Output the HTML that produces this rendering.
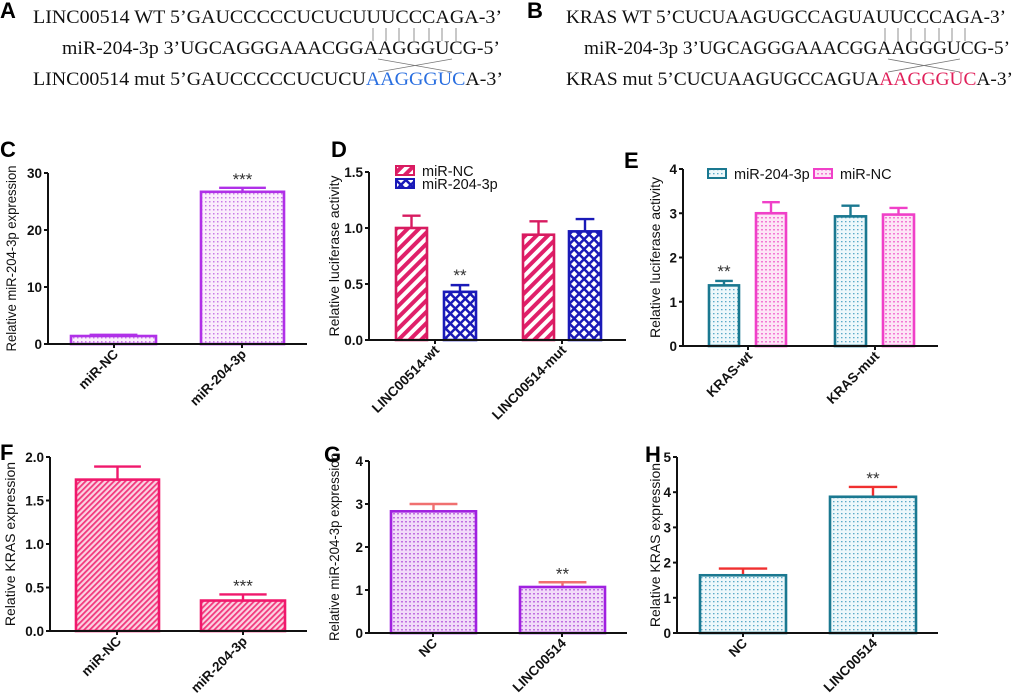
<!DOCTYPE html>
<html><head><meta charset="utf-8"><style>
body{margin:0;background:#fff}
svg{display:block}
.seq{font-family:"Liberation Serif",serif;font-size:18.5px;fill:#111}
.lab{font-family:"Liberation Sans",sans-serif;font-weight:bold;font-size:22px;fill:#000}
.tk{font-family:"Liberation Sans",sans-serif;font-weight:bold;font-size:13.5px;fill:#111}
.yt{font-family:"Liberation Sans",sans-serif;font-size:14px;fill:#111}
.lg{font-family:"Liberation Sans",sans-serif;font-size:14.5px;fill:#111}
.st{font-family:"Liberation Sans",sans-serif;font-size:17px;fill:#333}
</style></head><body>
<svg id="fig" width="1020" height="696" viewBox="0 0 1020 696">
<defs>
<pattern id="pDots" width="4" height="4" patternUnits="userSpaceOnUse"><rect width="4" height="4" fill="#fbeefc"/><rect x="1" y="1" width="1.5" height="1.5" fill="#c87ce6"/></pattern>
<pattern id="pStripe" width="8" height="8" patternUnits="userSpaceOnUse" patternTransform="rotate(45)"><rect width="8" height="8" fill="#fff"/><rect width="4" height="8" fill="#e0206a"/></pattern>
<pattern id="pCross" width="7" height="7" patternUnits="userSpaceOnUse" patternTransform="rotate(45)"><rect width="7" height="7" fill="#fff"/><rect width="7" height="2.5" fill="#1a1ab8"/><rect width="2.5" height="7" fill="#1a1ab8"/></pattern>
<pattern id="pTeal" width="4" height="4" patternUnits="userSpaceOnUse"><rect width="4" height="4" fill="#eef8fb"/><rect x="1" y="1" width="1.5" height="1.3" fill="#5aaac8"/></pattern>
<pattern id="pPink" width="4" height="4" patternUnits="userSpaceOnUse"><rect width="4" height="4" fill="#fde6f6"/><rect x="1" y="1" width="2" height="1.5" fill="#f27ad4"/></pattern>
<pattern id="pHatchF" width="4" height="4" patternUnits="userSpaceOnUse" patternTransform="rotate(45)"><rect width="4" height="4" fill="#fbd2e2"/><rect width="1.8" height="4" fill="#f2387c"/></pattern>
<pattern id="pPurp" width="4" height="4" patternUnits="userSpaceOnUse"><rect width="4" height="4" fill="#f2dcf9"/><rect x="1" y="1" width="2" height="1.5" fill="#c070e0"/></pattern>
</defs>

<g>
<text class="lab" x="0" y="18">A</text>
<text class="seq" x="33" y="23" textLength="469" lengthAdjust="spacingAndGlyphs">LINC00514 WT 5’GAUCCCCCUCUCUUUCCCAGA-3’</text>
<text class="seq" x="62" y="54" textLength="438" lengthAdjust="spacingAndGlyphs">miR-204-3p 3’UGCAGGGAAACGGAAGGGUCG-5’</text>
<text class="seq" x="33" y="85" textLength="470" lengthAdjust="spacingAndGlyphs">LINC00514 mut 5’GAUCCCCCUCUCU<tspan fill="#2a6fe0">AAGGGUC</tspan>A-3’</text>
<g stroke="#777" stroke-width="0.8">
<line x1="373" y1="28" x2="373" y2="41"/><line x1="386" y1="28" x2="386" y2="41"/><line x1="399" y1="28" x2="399" y2="41"/><line x1="414" y1="28" x2="414" y2="41"/><line x1="429" y1="28" x2="429" y2="41"/><line x1="442" y1="28" x2="442" y2="41"/><line x1="456" y1="28" x2="456" y2="41"/>
<line x1="378" y1="59" x2="452" y2="72"/><line x1="452" y1="59" x2="378" y2="72"/>
</g>
</g>

<g>
<text class="lab" x="527" y="18">B</text>
<text class="seq" x="566" y="23" textLength="440" lengthAdjust="spacingAndGlyphs">KRAS WT 5’CUCUAAGUGCCAGUAUUCCCAGA-3’</text>
<text class="seq" x="584" y="54" textLength="426" lengthAdjust="spacingAndGlyphs">miR-204-3p 3’UGCAGGGAAACGGAAGGGUCG-5’</text>
<text class="seq" x="566" y="85" textLength="447" lengthAdjust="spacingAndGlyphs">KRAS mut 5’CUCUAAGUGCCAGUA<tspan fill="#e0205a">AAGGGUC</tspan>A-3’</text>
<g stroke="#777" stroke-width="0.8">
<line x1="885" y1="28" x2="885" y2="41"/><line x1="898" y1="28" x2="898" y2="41"/><line x1="911" y1="28" x2="911" y2="41"/><line x1="925" y1="28" x2="925" y2="41"/><line x1="939" y1="28" x2="939" y2="41"/><line x1="952" y1="28" x2="952" y2="41"/><line x1="965" y1="28" x2="965" y2="41"/>
<line x1="888" y1="59" x2="960" y2="72"/><line x1="960" y1="59" x2="888" y2="72"/>
</g>
</g>

<g id="charts"></g>
</svg>
<script>
const cCats = ["miR-NC","miR-204-3p"];
const cVals = [1.4, 26.7];
const cErr = [1.6, 27.4];
const cTicks = [0,10,20,30];

const dCats = ["LINC00514-wt","LINC00514-mut"];
const dNC = [1.0, 0.94];
const dNCerr = [1.11, 1.06];
const dMir = [0.43, 0.97];
const dMirErr = [0.49, 1.08];
const dTicks = [0.0,0.5,1.0,1.5];

const eCats = ["KRAS-wt","KRAS-mut"];
const eMir = [1.37, 2.93];
const eMirErr = [1.47, 3.17];
const eNC = [3.0, 2.97];
const eNCerr = [3.25, 3.12];
const eTicks = [0,1,2,3,4];

const fCats = ["miR-NC","miR-204-3p"];
const fVals = [1.74, 0.35];
const fErr = [1.89, 0.42];
const fTicks = [0.0,0.5,1.0,1.5,2.0];

const gCats = ["NC","LINC00514"];
const gVals = [2.83, 1.07];
const gErr = [3.0, 1.18];
const gTicks = [0,1,2,3,4];

const hCats = ["NC","LINC00514"];
const hVals = [1.64, 3.87];
const hErr = [1.83, 4.15];
const hTicks = [0,1,2,3,4,5];

const NS = "http://www.w3.org/2000/svg";
const root = document.getElementById("charts");
function mk(tag, attrs, parent){const e=document.createElementNS(NS,tag);for(const k in attrs)e.setAttribute(k,attrs[k]);(parent||root).appendChild(e);return e;}

function panel(id, cfg){
  const g = mk("g",{});
  
  
  const ys = v => cfg.y0 - (v / cfg.max) * (cfg.y0 - cfg.yTop);
  const lab = mk("text",{class:"lab",x:cfg.lx,y:cfg.ly},g); lab.textContent = cfg.label;
  
  
  cfg.series.forEach(s=>{
    s.vals.forEach((v,i)=>{
      const l=s.x[i][0], r=s.x[i][1], cx=(l+r)/2, yt=ys(v), ye=ys(s.err[i]);
      const w=(r-l)*0.55;
      const eb = mk("path",{d:`M${cx},${yt} V${ye} M${cx-w/2},${ye} H${cx+w/2}`,stroke:s.errC,"stroke-width":2.4,fill:"none"},g);
      
      
      const b = mk("rect",{x:l+1,y:yt,width:r-l-2,height:cfg.y0-yt,fill:s.fill,stroke:s.stroke,"stroke-width":2.6},g);
      
      
    });
  });
  (cfg.stars||[]).forEach(st=>{
    const s=cfg.series[st.s], i=st.i;
    const cx=(s.x[i][0]+s.x[i][1])/2;
    const t=mk("text",{class:"st","text-anchor":"middle",x:cx,y:ys(s.err[i])+st.dy},g); t.textContent=st.t;
    
    
  });
  const ax = mk("path",{d:`M${cfg.x0},${cfg.yTop} V${cfg.y0} H${cfg.x1}`,stroke:"#111","stroke-width":2,fill:"none"},g);
  
  
  cfg.ticks.forEach(t=>{
    const y=ys(t);
    const tl=mk("line",{x1:cfg.x0-4,x2:cfg.x0,y1:y,y2:y,stroke:"#111","stroke-width":2},g);
    
    
    const tx=mk("text",{class:"tk","text-anchor":"end",x:cfg.x0-6,y:y+5},g); tx.textContent=t.toFixed(cfg.dec);
    
    
  });
  cfg.cats.forEach((c,i)=>{
    const x=cfg.catX[i];
    const tl=mk("line",{x1:x,x2:x,y1:cfg.y0,y2:cfg.y0+4,stroke:"#111","stroke-width":2},g);
    
    
    const tx=mk("text",{class:"tk","text-anchor":"end",transform:`translate(${x+5},${cfg.y0+11}) rotate(-45)`},g); tx.textContent=c;
    
    
  });
  const ta = {class:"yt","text-anchor":"middle",transform:`translate(${cfg.titleX},${(cfg.y0+cfg.yTop)/2}) rotate(-90)`};
  if (cfg.tLen) { ta.textLength = cfg.tLen; ta.lengthAdjust = "spacingAndGlyphs"; }
  const yt=mk("text",ta,g); yt.textContent=cfg.title;
  
  
  (cfg.legend||[]).forEach(L=>{
    const r=mk("rect",{x:L.x,y:L.y,width:18,height:9,fill:L.fill,stroke:L.stroke,"stroke-width":2},g);
    
    
    const t=mk("text",{class:"lg",x:L.x+26,y:L.y+10},g); t.textContent=L.t;
    
    
  });
}

panel("panel-c-chart",{x0:48,x1:307,y0:344,yTop:173,max:30,ticks:cTicks,dec:0,title:"Relative miR-204-3p expression",titleX:16,tLen:186,label:"C",lx:0,ly:157,
  cats:cCats,catX:[114,242],
  series:[{name:"c",vals:cVals,err:cErr,x:[[70,157],[200,285]],fill:"url(#pDots)",stroke:"#b030e8",errC:"#b030e8"}],
  stars:[{s:0,i:1,t:"***",dy:-3}]});

panel("panel-d-chart",{x0:369,x1:626,y0:340,yTop:172,max:1.5,ticks:dTicks,dec:1,title:"Relative luciferase activity",titleX:339,label:"D",lx:331,ly:157,
  cats:dCats,catX:[435,562],
  series:[{name:"mir-nc",vals:dNC,err:dNCerr,x:[[395,428],[522,555]],fill:"url(#pStripe)",stroke:"#d81b60",errC:"#d81b60"},
          {name:"mir-204",vals:dMir,err:dMirErr,x:[[443,477],[568,602]],fill:"url(#pCross)",stroke:"#1a1ab8",errC:"#1a1ab8"}],
  stars:[{s:1,i:0,t:"**",dy:-4}],
  legend:[{x:396,y:166,t:"miR-NC",fill:"url(#pStripe)",stroke:"#d81b60"},{x:396,y:179,t:"miR-204-3p",fill:"url(#pCross)",stroke:"#1a1ab8"}]});

panel("panel-e-chart",{x0:683,x1:938,y0:346,yTop:169,max:4,ticks:eTicks,dec:0,title:"Relative luciferase activity",titleX:660,label:"E",lx:624,ly:168,
  cats:eCats,catX:[748,875],
  series:[{name:"mir-204",vals:eMir,err:eMirErr,x:[[708,740],[834,867]],fill:"url(#pTeal)",stroke:"#1a7890",errC:"#1a7890"},
          {name:"mir-nc",vals:eNC,err:eNCerr,x:[[755,787],[882,915]],fill:"url(#pPink)",stroke:"#f040c8",errC:"#f040c8"}],
  stars:[{s:0,i:0,t:"**",dy:-4}],
  legend:[{x:708,y:169,t:"miR-204-3p",fill:"url(#pTeal)",stroke:"#1a7890"},{x:814,y:169,t:"miR-NC",fill:"url(#pPink)",stroke:"#f040c8"}]});

panel("panel-f-chart",{x0:50,x1:307,y0:631,yTop:457,max:2,ticks:fTicks,dec:1,title:"Relative KRAS expression",titleX:15,label:"F",lx:0,ly:460,
  cats:fCats,catX:[117,243],
  series:[{name:"f",vals:fVals,err:fErr,x:[[75,160],[200,286]],fill:"url(#pHatchF)",stroke:"#f0186c",errC:"#f0186c"}],
  stars:[{s:0,i:1,t:"***",dy:-3}]});

panel("panel-g-chart",{x0:369,x1:627,y0:633,yTop:461,max:4,ticks:gTicks,dec:0,title:"Relative miR-204-3p expression",titleX:339,tLen:188,label:"G",lx:324,ly:462,
  cats:gCats,catX:[433,562],
  series:[{name:"g",vals:gVals,err:gErr,x:[[390,477],[519,606]],fill:"url(#pPurp)",stroke:"#a020e0",errC:"#f07070"}],
  stars:[{s:0,i:1,t:"**",dy:-3}]});

panel("panel-h-chart",{x0:677,x1:938,y0:633,yTop:457,max:5,ticks:hTicks,dec:0,title:"Relative KRAS expression",titleX:660,label:"H",lx:645,ly:462,
  cats:hCats,catX:[743,873],
  series:[{name:"h",vals:hVals,err:hErr,x:[[699,787],[829,917]],fill:"url(#pTeal)",stroke:"#1a7890",errC:"#f03030"}],
  stars:[{s:0,i:1,t:"**",dy:-3}]});
</script>
</body></html>
